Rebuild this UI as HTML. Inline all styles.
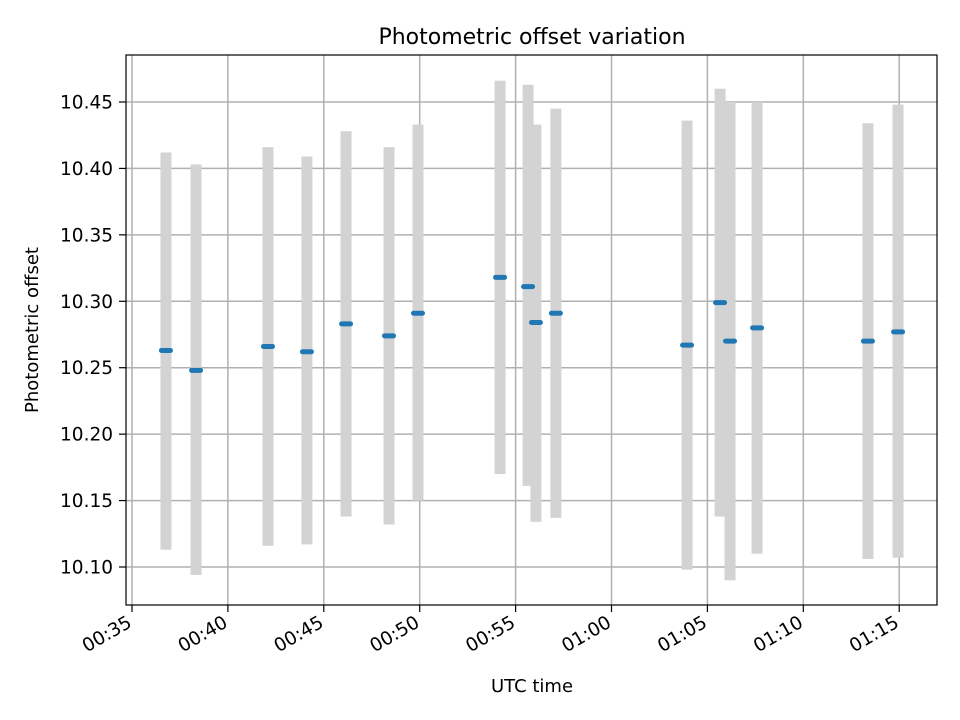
<!DOCTYPE html>
<html><head><meta charset="utf-8"><style>
body{margin:0;background:#fff}
svg{display:block;font-family:"DejaVu Sans","Liberation Sans",sans-serif}
</style></head><body>
<svg id="chart" width="960" height="720" xmlns="http://www.w3.org/2000/svg">
<rect width="960" height="720" fill="#fff"/>
<text x="532" y="44" font-size="22" text-anchor="middle">Photometric offset variation</text>
<g id="grid"></g>
<g id="bars"></g>
<g id="marks"></g>
<rect x="126" y="55" width="811" height="550" fill="none" stroke="#000" stroke-width="1.2"/>
<g id="axes"></g>
<text x="532" y="692" font-size="18" text-anchor="middle">UTC time</text>
<text x="38" y="330" font-size="18" text-anchor="middle" transform="rotate(-90 38 330)">Photometric offset</text>
</svg>
<script>
const timesMin = [36.77,38.34,42.09,44.12,46.16,48.4,49.91,54.19,55.65,56.06,57.1,63.94,65.66,66.18,67.59,73.37,74.94];
const offsets = [10.263,10.248,10.266,10.262,10.283,10.274,10.291,10.318,10.311,10.284,10.291,10.267,10.299,10.270,10.280,10.270,10.277];
const upper = [10.412,10.403,10.416,10.409,10.428,10.416,10.433,10.466,10.463,10.433,10.445,10.436,10.460,10.450,10.450,10.434,10.448];
const lower = [10.113,10.094,10.116,10.117,10.138,10.132,10.150,10.170,10.161,10.134,10.137,10.098,10.138,10.090,10.110,10.106,10.107];
const yTicks = [10.10,10.15,10.20,10.25,10.30,10.35,10.40,10.45];
const xTicks = [35,40,45,50,55,60,65,70,75];
const xTickLabels = ["00:35","00:40","00:45","00:50","00:55","01:00","01:05","01:10","01:15"];

const NS="http://www.w3.org/2000/svg";
const xS = m => 132 + (m-35)*19.18;
const yS = v => 567 - (v-10.10)/0.05*66.43;
function mk(tag, attrs, parent){const e=document.createElementNS(NS,tag);for(const k in attrs)e.setAttribute(k,attrs[k]);document.getElementById(parent).appendChild(e);return e;}

yTicks.forEach((t,i)=>{
  const y=yS(t);
  const g=mk('line',{x1:126,x2:937,y1:y,y2:y,stroke:'#b0b0b0','stroke-width':1.5},'grid');
  
  
  const tk=mk('line',{x1:119,x2:126,y1:y,y2:y,stroke:'#000','stroke-width':1.2},'axes');
  
  
  const tx=mk('text',{x:113,y:y+6.5,'font-size':18.5,'text-anchor':'end'},'axes');
  tx.textContent=t.toFixed(2);
  
  
});
xTicks.forEach((t,i)=>{
  const x=xS(t);
  const g=mk('line',{x1:x,x2:x,y1:55,y2:605,stroke:'#b0b0b0','stroke-width':1.5},'grid');
  
  
  const tk=mk('line',{x1:x,x2:x,y1:605,y2:612,stroke:'#000','stroke-width':1.2},'axes');
  
  
  const tx=mk('text',{x:x+1,y:626,'font-size':18.5,'text-anchor':'end',transform:`rotate(-30 ${x+1} 626)`},'axes');
  tx.textContent=xTickLabels[i];
  
  
});
timesMin.forEach((m,i)=>{
  const x=xS(m);
  const b=mk('rect',{x:x-5.5,y:yS(upper[i]),width:11,height:yS(lower[i])-yS(upper[i]),fill:'#d3d3d3'},'bars');
  
  
});
timesMin.forEach((m,i)=>{
  const x=xS(m), y=yS(offsets[i]);
  const p=mk('line',{x1:x-4.5,x2:x+4.5,y1:y,y2:y,stroke:'#1f77b4','stroke-width':5,'stroke-linecap':'round'},'marks');
  
  
});
</script>
</body></html>
